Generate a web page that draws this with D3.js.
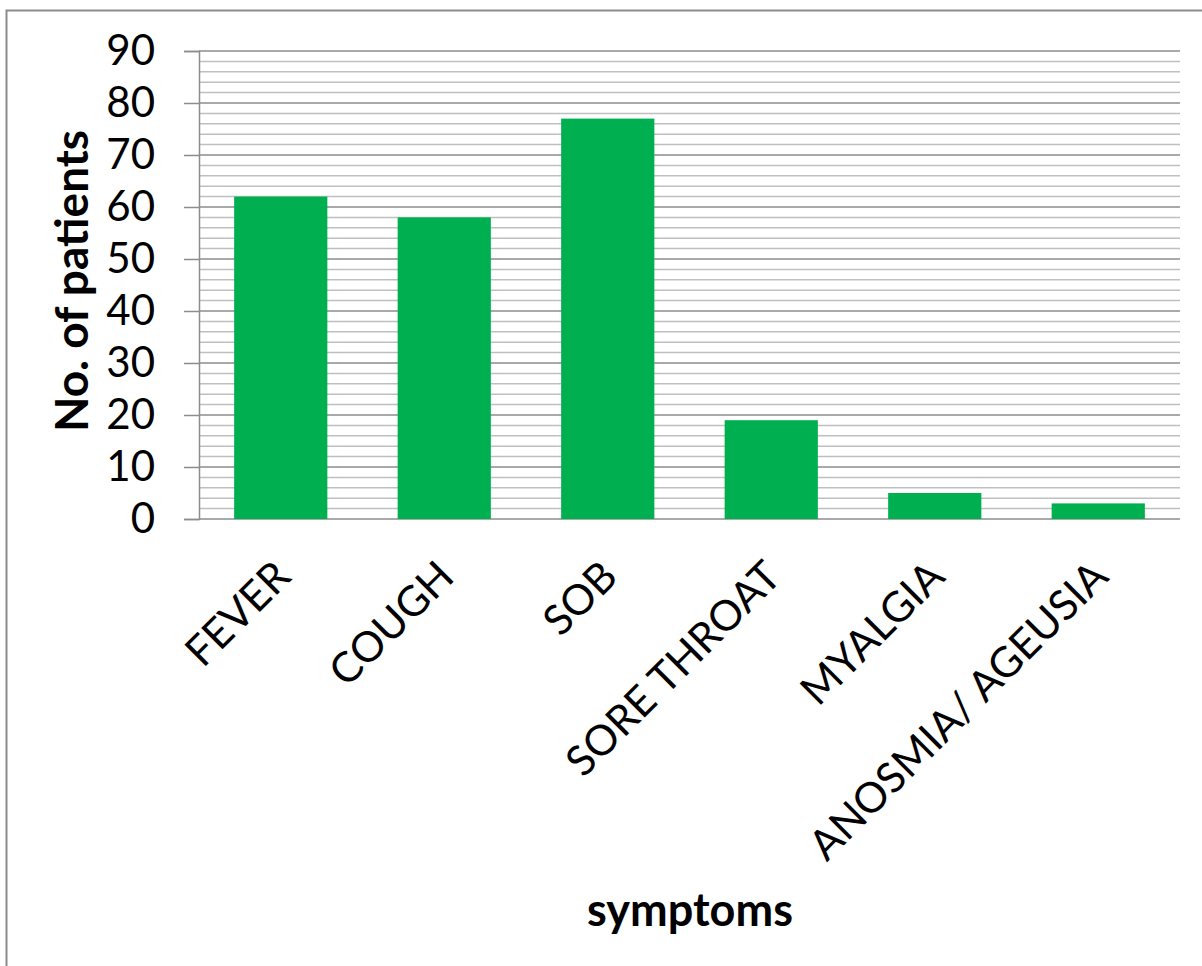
<!DOCTYPE html>
<html>
<head>
<meta charset="utf-8">
<script src="https://cdn.jsdelivr.net/npm/d3@7"></script>
<style>
    body { margin: 0; background: #fff; }
    svg { display: block; font-family: Lato, "Open Sans", sans-serif; }
</style>
</head>
<body>
<div id="chart"></div>
<script>
const symptoms = ['FEVER', 'COUGH', 'SOB', 'SORE THROAT', 'MYALGIA', 'ANOSMIA/ AGEUSIA'];
const patientCounts = [62, 58, 77, 19, 5, 3];
const majorTicks = [0, 10, 20, 30, 40, 50, 60, 70, 80, 90];
const minorTicks = d3.range(0, 91, 2);

const width = 1202;
const height = 966;
const margin = { top: 51, right: 22, bottom: 447, left: 199 };
const innerW = width - margin.left - margin.right;
const innerH = height - margin.top - margin.bottom;

const svg = d3.select('#chart')
    .append('svg')
    .attr('width', width)
    .attr('height', height);

// chart area border (only left and top show in the frame)
svg.append('rect')
    .attr('x', 6.5).attr('y', 10.5)
    .attr('width', width + 20).attr('height', height + 20)
    .attr('fill', 'none')
    .attr('stroke', '#8c8c8c')
    .attr('stroke-width', 2);

const g = svg.append('g')
    .attr('transform', `translate(${margin.left},${margin.top})`);

const x = d3.scaleBand()
    .domain(symptoms)
    .range([0, innerW])
    .paddingInner(0.43)
    .paddingOuter(0.215);

const xCat = d3.scaleBand()
    .domain(symptoms)
    .range([0, innerW]);

const y = d3.scaleLinear()
    .domain([0, 90])
    .range([innerH, 0]);

// minor gridlines
g.append('g')
    .selectAll('line')
    .data(minorTicks.filter(d => d % 10 !== 0))
    .enter()
    .append('line')
    .attr('x1', 0).attr('x2', innerW)
    .attr('y1', d => y(d)).attr('y2', d => y(d))
    .attr('stroke', '#bfbfbf')
    .attr('stroke-width', 1.5);

// major gridlines
g.append('g')
    .selectAll('line')
    .data(majorTicks)
    .enter()
    .append('line')
    .attr('x1', 0).attr('x2', innerW)
    .attr('y1', d => y(d)).attr('y2', d => y(d))
    .attr('stroke', '#8c8c8c')
    .attr('stroke-width', 1.5);

// bars
g.selectAll('.bar')
    .data(symptoms)
    .enter()
    .append('rect')
    .attr('x', d => x(d))
    .attr('y', (d, i) => y(patientCounts[i]))
    .attr('width', x.bandwidth())
    .attr('height', (d, i) => innerH - y(patientCounts[i]))
    .attr('fill', '#00b050');

// y axis
const yAxis = g.append('g')
    .call(d3.axisLeft(y).tickValues(majorTicks).tickSize(15).tickPadding(29));
yAxis.select('.domain').attr('stroke', '#8c8c8c').attr('stroke-width', 1.5);
yAxis.selectAll('.tick line').attr('stroke', '#8c8c8c').attr('stroke-width', 1.5);
yAxis.selectAll('text')
    .attr('font-size', 42)
    .attr('fill', '#000')
    .attr('font-family', 'Lato, sans-serif');

// x axis labels
const xAxis = g.append('g')
    .attr('transform', `translate(0,${innerH})`)
    .call(d3.axisBottom(xCat).tickSize(0).tickPadding(0));
xAxis.select('.domain').remove();
xAxis.selectAll('text')
    .attr('font-size', 42)
    .attr('fill', '#000')
    .attr('font-family', 'Lato, sans-serif')
    .attr('text-anchor', 'end')
    .attr('dy', 0)
    .attr('transform', 'translate(12,60) rotate(-45)');

// axis titles
svg.append('text')
    .attr('transform', 'translate(88,281) rotate(-90)')
    .attr('text-anchor', 'middle')
    .attr('font-size', 46)
    .attr('font-weight', 'bold')
    .text('No. of patients');

svg.append('text')
    .attr('x', 690)
    .attr('y', 926)
    .attr('text-anchor', 'middle')
    .attr('font-size', 45)
    .attr('font-weight', 'bold')
    .text('symptoms');
</script>
</body>
</html>
